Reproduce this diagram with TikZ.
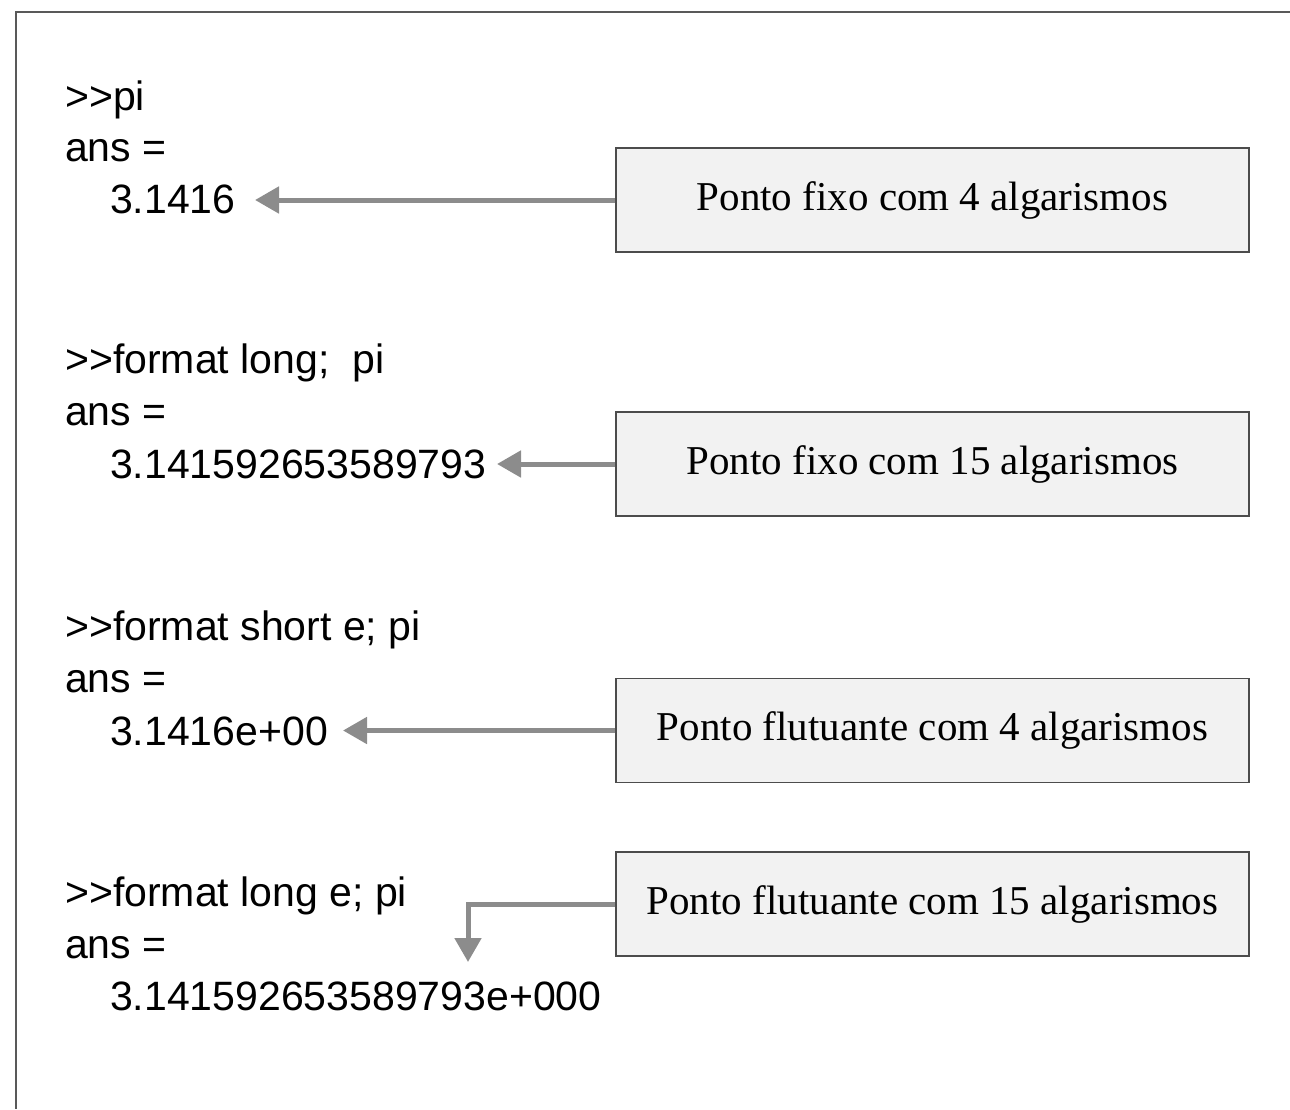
\documentclass[tikz,border=0pt]{standalone}
\usepackage{fontspec}
\setmainfont{Liberation Serif}
\newfontfamily\cmdfont{Liberation Sans}[Ligatures=TeXOff]
\usetikzlibrary{arrows.meta}
\begin{document}
\begin{tikzpicture}[x=1pt,y=-1pt,
  cmd/.style={anchor=base west, inner sep=0pt, font=\cmdfont\fontsize{41}{41}\selectfont},
  note/.style={draw=black!70, line width=1.3pt, fill=black!5, minimum width=633pt,
    minimum height=104pt, inner sep=0pt, font=\fontsize{41}{41}\selectfont},
  pointer/.style={draw=black!45, line width=5pt,
    -{Triangle[length=24pt,width=26pt,fill=black!45]}},
  frame/.style={draw=black!65, line width=1.8pt}
]
\useasboundingbox (0,0) rectangle (1290,1109);

% page frame (top and left edges)
\coordinate (ftr) at (1290,12);
\coordinate (ftl) at (16,12);
\coordinate (fbl) at (16,1109);
\draw[frame] (ftr) -- (ftl) -- (fbl);

% command-window lines
\node[cmd] (c1) at (65,110) {>>pi};
\node[cmd] (a1) at (65,161) {ans =};
\node[cmd] (r1) at (110,213) {3.1416};

\node[cmd] (c2) at (65,373) {>>format long;\ \ pi};
\node[cmd] (a2) at (65,425) {ans =};
\node[cmd] (r2) at (110,478) {3.141592653589793};

\node[cmd] (c3) at (65,640) {>>format short e; pi};
\node[cmd] (a3) at (65,692) {ans =};
\node[cmd] (r3) at (110,745) {3.1416e+00};

\node[cmd] (c4) at (65,906) {>>format long e; pi};
\node[cmd] (a4) at (65,958) {ans =};
\node[cmd] (r4) at (110,1010) {3.141592653589793e+000};

% explanation boxes
\node[note] (n1) at (932.5,200) {Ponto fixo com 4 algarismos};
\node[note] (n2) at (932.5,464) {Ponto fixo com 15 algarismos};
\node[note] (n3) at (932.5,730.5) {Ponto flutuante com 4 algarismos};
\node[note] (n4) at (932.5,904) {Ponto flutuante com 15 algarismos};

% arrow end points
\coordinate (t1) at (255,200);
\coordinate (t2) at (497,464);
\coordinate (t3) at (343,730.5);
\coordinate (k4) at (468,904);
\coordinate (t4) at (468,962);

\draw[pointer] (n1.west) -- (t1);
\draw[pointer] (n2.west) -- (t2);
\draw[pointer] (n3.west) -- (t3);
\draw[pointer] (n4.west) -- (k4) -- (t4);
\end{tikzpicture}
\end{document}
